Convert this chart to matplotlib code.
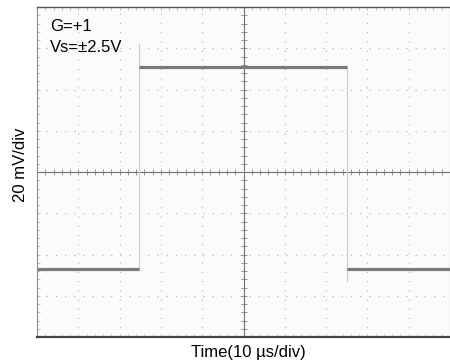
import numpy as np
import matplotlib
matplotlib.use("Agg")
import matplotlib.pyplot as plt

font = {'family': 'Liberation Sans', 'size': 12}
matplotlib.rc('font', **font)

# scope trace, time in us (10 us/div), amplitude in mV (20 mV/div)
t_us = [0, 24.7, 24.7, 24.7, 75.0, 75.0, 75.0, 75.0, 100]
v_mv = [-47, -47, 62, 51, 51, -53, -43, -47, -47]

x_div = 10
y_div = 8
us_per_div = 10
mv_per_div = 20

fig = plt.figure(figsize=(4.5, 3.63), dpi=100)
ax = fig.add_axes([37 / 450, 26 / 363, 413 / 450, 330 / 363])
ax.set_facecolor('#fbfbfb')

xmax = x_div * us_per_div
ymax = y_div / 2 * mv_per_div
ax.set_xlim(0, xmax)
ax.set_ylim(-ymax, ymax)

# dotted graticule
for i in range(1, x_div):
    if i != x_div // 2:
        ax.axvline(i * us_per_div, color='#b0b0b0', lw=0.8,
                   ls=(0, (1, 7.3)), zorder=1)
for j in range(-3, 4):
    if j != 0:
        ax.axhline(j * mv_per_div, color='#b0b0b0', lw=0.8,
                   ls=(0, (1, 7.3)), zorder=1)

# center axes with minor ticks
ax.axvline(xmax / 2, color='#707070', lw=0.8, zorder=2)
ax.axhline(0, color='#707070', lw=0.8, zorder=2)
xm = np.arange(0, xmax + 0.1, us_per_div / 5)
ym = np.arange(-ymax, ymax + 0.1, mv_per_div / 5)
ax.plot(xm, np.zeros_like(xm), ls='none', marker='|', ms=4,
        color='#808080', mew=0.6, zorder=2)
ax.plot(np.full_like(ym, xmax / 2), ym, ls='none', marker='_', ms=4,
        color='#808080', mew=0.6, zorder=2)

# edge ticks
ax.set_xticks(xm)
ax.set_yticks(ym)
ax.tick_params(direction='in', length=2.5, width=0.5, colors='#aaaaaa',
               top=True, right=False, labelbottom=False, labelleft=False)

for s in ['left', 'right']:
    ax.spines[s].set_color('#8a8a8a')
    ax.spines[s].set_linewidth(0.8)
ax.spines['top'].set_color('#555555')
ax.spines['top'].set_linewidth(1.0)
ax.spines['bottom'].set_color('#444444')
ax.spines['bottom'].set_linewidth(1.6)

# trace: thin edges, fat noisy levels
ax.plot(t_us, v_mv, color='#cccccc', lw=0.8, zorder=3)
ax.plot(t_us[:2], v_mv[:2], color='#7a7a7a', lw=2.3, zorder=4,
        solid_capstyle='butt')
ax.plot(t_us[3:5], v_mv[3:5], color='#7a7a7a', lw=2.3, zorder=4,
        solid_capstyle='butt')
ax.plot(t_us[7:], v_mv[7:], color='#7a7a7a', lw=2.3, zorder=4,
        solid_capstyle='butt')

ax.text(13 / 413, 1 - 19 / 330, 'G=+1', transform=ax.transAxes,
        va='center', ha='left')
ax.text(13 / 413, 1 - 40 / 330, 'Vs=±2.5V', transform=ax.transAxes,
        va='center', ha='left')

fig.text(248 / 450, 1 - 353 / 363, 'Time(10 µs/div)', ha='center',
         va='center')
fig.text(21 / 450, 1 - 165 / 363, '20 mV/div', ha='center', va='center',
         rotation=90)

fig.savefig('out.png', dpi=100, facecolor='white')
